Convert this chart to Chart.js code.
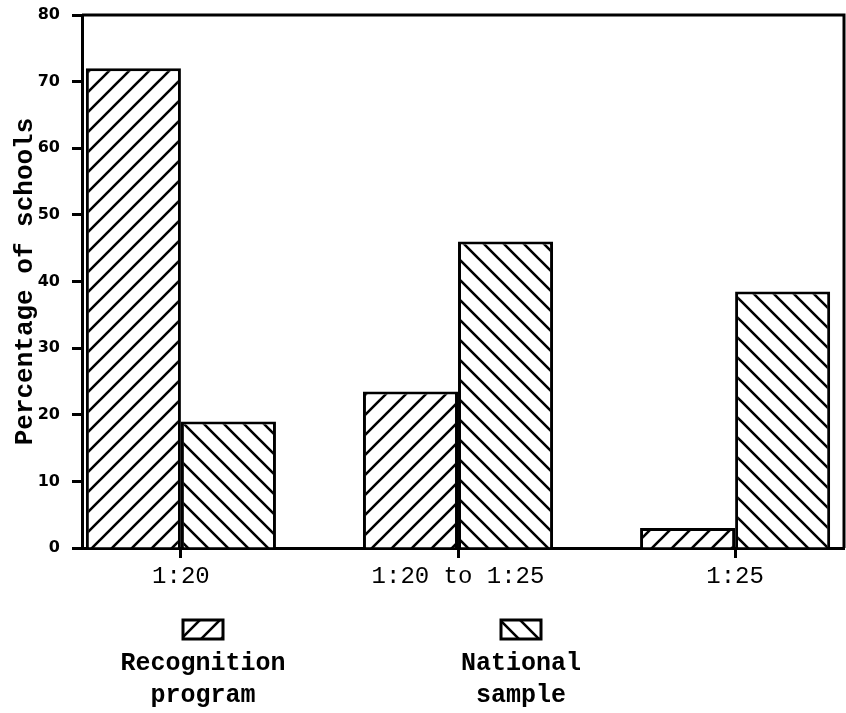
<!DOCTYPE html>
<html>
<head>
<meta charset="utf-8">
<script src="https://cdn.jsdelivr.net/npm/chart.js@4/dist/chart.umd.min.js"></script>
<style>
  body { margin: 0; background: #fff; }
</style>
</head>
<body>
<canvas id="myChart" width="846" height="713"></canvas>
<script>
'use strict';

// DATA
// ====
var categories = ['1:20', '1:20 to 1:25', '1:25'];
var recognition = [72, 23.5, 3];
var national = [19, 46, 38.5];
var seriesNames = [['Recognition', 'program'], ['National', 'sample']];
var yTitle = 'Percentage of schools';

// HATCH PATTERNS
// ==============
var makeHatch = function (dir) {
    var size = 20;
    var c = document.createElement('canvas');
    c.width = size;
    c.height = size;
    var g = c.getContext('2d');
    g.fillStyle = '#fff';
    g.fillRect(0, 0, size, size);
    g.strokeStyle = '#000';
    g.lineWidth = 2.6;
    g.beginPath();
    if (dir === '/') {
        g.moveTo(-5, size + 5); g.lineTo(size + 5, -5);
        g.moveTo(-5, 5); g.lineTo(5, -5);
        g.moveTo(size - 5, size + 5); g.lineTo(size + 5, size - 5);
    } else {
        g.moveTo(-5, -5); g.lineTo(size + 5, size + 5);
        g.moveTo(-5, size - 5); g.lineTo(5, size + 5);
        g.moveTo(size - 5, -5); g.lineTo(size + 5, 5);
    }
    g.stroke();
    return g.createPattern(c, 'repeat');
};

var hatches = [makeHatch('/'), makeHatch('\\')];

// frame on top and right of the plot
var framePlugin = {
    id: 'frame',
    afterDatasetsDraw: function (chart) {
        var a = chart.chartArea;
        var ctx = chart.ctx;
        ctx.save();
        ctx.strokeStyle = '#000';
        ctx.lineWidth = 3;
        ctx.beginPath();
        ctx.moveTo(a.left, a.top);
        ctx.lineTo(a.right, a.top);
        ctx.lineTo(a.right, a.bottom);
        ctx.stroke();
        ctx.restore();
    }
};

// legend: swatch above two-line label
var legendPlugin = {
    id: 'stackedLegend',
    afterDraw: function (chart) {
        var ctx = chart.ctx;
        var centers = [203, 521];
        ctx.save();
        chart.data.datasets.forEach(function (ds, i) {
            var cx = centers[i];
            ctx.fillStyle = ds.backgroundColor;
            ctx.fillRect(cx - 20, 620, 40, 19);
            ctx.strokeStyle = '#000';
            ctx.lineWidth = 3;
            ctx.strokeRect(cx - 20, 620, 40, 19);
            ctx.fillStyle = '#000';
            ctx.font = 'bold 25px "Liberation Mono", monospace';
            ctx.textAlign = 'center';
            ctx.textBaseline = 'middle';
            ds.lines.forEach(function (line, j) {
                ctx.fillText(line, cx, 664 + j * 32);
            });
        });
        ctx.restore();
    }
};

var toPoints = function (arr) {
    return arr.map(function (v, i) { return { x: i + 1, y: v }; });
};

var init = function () {
    var ctx = document.getElementById('myChart');
    var myChart = new Chart(ctx, {
        type: 'bar',
        data: {
            datasets: [{
                label: seriesNames[0].join(' '),
                lines: seriesNames[0],
                data: toPoints(recognition),
                backgroundColor: hatches[0],
                borderColor: '#000',
                borderWidth: 3
            }, {
                label: seriesNames[1].join(' '),
                lines: seriesNames[1],
                data: toPoints(national),
                backgroundColor: hatches[1],
                borderColor: '#000',
                borderWidth: 3
            }]
        },
        options: {
            responsive: false,
            animation: false,
            layout: {
                padding: { top: 15, right: 2, left: 0, bottom: 0 }
            },
            datasets: {
                bar: { categoryPercentage: 0.686, barPercentage: 1 }
            },
            plugins: {
                legend: { display: false },
                title: { display: false },
                tooltip: { enabled: false }
            },
            scales: {
                x: {
                    type: 'linear',
                    offset: false,
                    min: 0.643,
                    max: 3.393,
                    afterBuildTicks: function (scale) {
                        scale.ticks = categories.map(function (c, i) { return { value: i + 1 }; });
                    },
                    afterFit: function (scale) {
                        scale.height = 165;
                        scale.paddingLeft = 0;
                        scale.paddingRight = 0;
                    },
                    ticks: {
                        color: '#000',
                        padding: 4,
                        maxRotation: 0,
                        autoSkip: false,
                        font: { family: '"Liberation Mono", monospace', size: 24 },
                        callback: function (value) { return categories[value - 1]; }
                    },
                    grid: {
                        offset: false,
                        drawOnChartArea: false,
                        drawTicks: true,
                        tickLength: 10,
                        tickWidth: 3,
                        tickColor: '#000'
                    },
                    border: { display: true, color: '#000', width: 3 }
                },
                y: {
                    min: 0,
                    max: 80,
                    afterFit: function (scale) {
                        scale.width = 82;
                        scale.paddingTop = 0;
                        scale.paddingBottom = 0;
                    },
                    ticks: {
                        stepSize: 10,
                        color: '#000',
                        padding: 12,
                        font: { family: '"DejaVu Sans", sans-serif', size: 16, weight: 'bold' }
                    },
                    grid: {
                        drawOnChartArea: false,
                        drawTicks: true,
                        tickLength: 10,
                        tickWidth: 3,
                        tickColor: '#000'
                    },
                    border: { display: true, color: '#000', width: 3 },
                    title: {
                        display: true,
                        text: yTitle,
                        color: '#000',
                        padding: { top: 10, bottom: 0 },
                        font: { family: '"Liberation Mono", monospace', size: 26, weight: 'bold' }
                    }
                }
            }
        },
        plugins: [framePlugin, legendPlugin]
    });
};

init();
</script>
</body>
</html>
